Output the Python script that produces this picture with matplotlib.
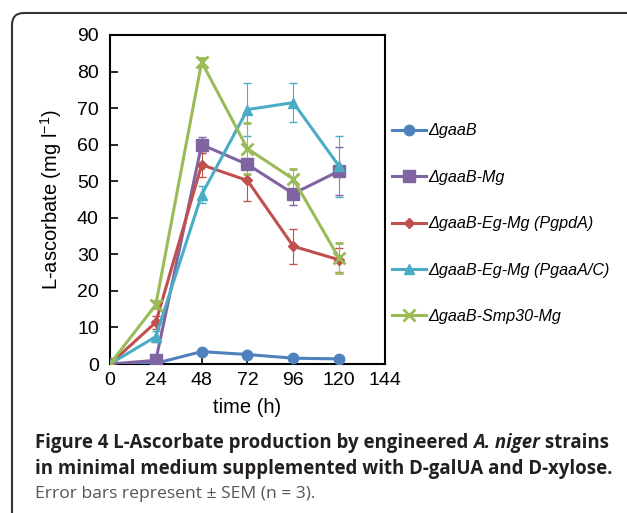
import matplotlib
matplotlib.use("Agg")
import matplotlib.pyplot as plt
from matplotlib.patches import FancyBboxPatch
from matplotlib.transforms import IdentityTransform

plt.rcParams['font.family'] = ['Liberation Sans', 'DejaVu Sans']

time_h = [0, 24, 48, 72, 96, 120]
x_ticks = [0, 24, 48, 72, 96, 120, 144]
y_ticks = [0, 10, 20, 30, 40, 50, 60, 70, 80, 90]

labels = [
    "ΔgaaB",
    "ΔgaaB-Mg",
    "ΔgaaB-Eg-Mg (PgpdA)",
    "ΔgaaB-Eg-Mg (PgaaA/C)",
    "ΔgaaB-Smp30-Mg",
]
gaab = [0, 0.2, 3.4, 2.6, 1.6, 1.4]
gaab_err = [0, 0.1, 0.4, 0.3, 0.2, 0.2]
gaab_mg = [0, 1.0, 60.0, 54.6, 46.6, 52.8]
gaab_mg_err = [0, 0.3, 2.2, 1.2, 3.2, 6.6]
gaab_pgpda = [0, 11.4, 54.5, 50.2, 32.2, 28.5]
gaab_pgpda_err = [0, 1.8, 3.3, 5.7, 4.8, 3.2]
gaab_pgaaa = [0, 7.5, 46.3, 69.6, 71.5, 54.1]
gaab_pgaaa_err = [0, 1.6, 2.3, 7.2, 5.4, 8.3]
gaab_smp30 = [0, 16.2, 82.6, 58.9, 50.6, 28.9]
gaab_smp30_err = [0, 1.0, 1.0, 7.0, 2.8, 4.1]

series = [gaab, gaab_mg, gaab_pgpda, gaab_pgaaa, gaab_smp30]
errors = [gaab_err, gaab_mg_err, gaab_pgpda_err, gaab_pgaaa_err, gaab_smp30_err]
colors = ['#4F81BD', '#8064A2', '#C0504D', '#4BACC6', '#9BBB59']
markers = ['o', 's', 'D', '^', 'x']
msizes = [7.5, 8, 5.5, 7.5, 8]

fig = plt.figure(figsize=(6.27, 5.13), dpi=100)
ax = fig.add_axes([0.1754, 0.2904, 0.4386, 0.6414])

for vals, errs, col, mk, ms, lab in zip(series, errors, colors, markers, msizes, labels):
    ax.errorbar(time_h, vals, yerr=errs, color=col, ecolor=col, elinewidth=0.8,
                capsize=3, capthick=0.8, lw=2.2, marker=mk, markersize=ms,
                markeredgewidth=2 if mk == 'x' else 1, label=lab, zorder=3)

ax.set_xlim(0, 144)
ax.set_ylim(0, 90)
ax.set_xticks(x_ticks)
ax.set_yticks(y_ticks)
ax.tick_params(direction='in', length=6, width=1.2, labelsize=14)
ax.tick_params(axis='y', pad=8)
ax.tick_params(axis='x', pad=6)
for sp in ax.spines.values():
    sp.set_linewidth(1.5)
ax.set_xlabel("time (h)", fontsize=14.5, labelpad=6)
ax.set_ylabel("L-ascorbate (mg l$^{\\mathregular{-1}}$)", fontsize=14.5, labelpad=9)

handles, hl = ax.get_legend_handles_labels()
handles = [h[0] for h in handles]
leg = fig.legend(handles, hl, loc='upper left', bbox_to_anchor=(386 / 627, 1 - 117 / 513),
                 frameon=False, prop={'style': 'italic', 'size': 11.6},
                 labelspacing=1.95, handlelength=2.1, handletextpad=0.1, borderaxespad=0)

# caption frame
frame = FancyBboxPatch((12, -60), 800, 513 - 13 + 60, boxstyle="round,pad=0,rounding_size=12",
                       transform=IdentityTransform(), fill=False, lw=1.5, ec='#333333')
fig.patches.append(frame)

cap = {'family': ['Open Sans', 'DejaVu Sans'], 'size': 13.4}
t1 = fig.text(35 / 627, 1 - 448 / 513, "Figure 4 L-Ascorbate production by engineered ",
              fontweight='bold', color='#231f20', **cap)
t2 = fig.text(0, 0, "A. niger", fontweight='bold', style='italic', color='#231f20', **cap)
t3 = fig.text(0, 0, " strains", fontweight='bold', color='#231f20', **cap)
fig.canvas.draw()
r = fig.canvas.get_renderer()
bb = t1.get_window_extent(r)
t2.set_position((bb.x1 / fig.bbox.width, t1.get_position()[1]))
bb2 = t2.get_window_extent(r)
t3.set_position((bb2.x1 / fig.bbox.width, t1.get_position()[1]))
fig.text(35 / 627, 1 - 474 / 513, "in minimal medium supplemented with D-galUA and D-xylose.",
         fontweight='bold', color='#231f20', **cap)
fig.text(35 / 627, 1 - 498 / 513, "Error bars represent ± SEM (n = 3).",
         color='#555555', family=['Open Sans', 'DejaVu Sans'], size=12.6)

fig.savefig("out.png", dpi=100)
